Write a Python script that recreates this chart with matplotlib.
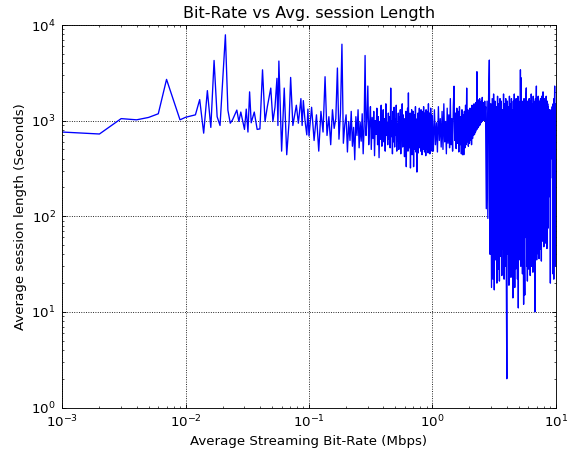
import numpy as np
import matplotlib
matplotlib.use("Agg")
import matplotlib.pyplot as plt

# low bit-rate part, read point by point
x_low = [0.001, 0.002, 0.003, 0.004, 0.005, 0.006, 0.007, 0.009, 0.010, 0.011,
         0.012, 0.013, 0.014, 0.015, 0.016, 0.017, 0.018, 0.019, 0.021, 0.022,
         0.023, 0.024, 0.026, 0.027, 0.028, 0.030, 0.031, 0.032, 0.033]
y_low = [760, 725, 1050, 1020, 1080, 1180, 2700, 1020, 1085, 1120,
         1150, 1660, 740, 2060, 850, 4260, 1100, 890, 7900, 1290,
         940, 1020, 1290, 980, 1230, 810, 1320, 760, 2000]

x_mid = [0.034, 0.036, 0.038, 0.040, 0.042, 0.044, 0.046, 0.049, 0.051, 0.053,
         0.055, 0.056, 0.057, 0.060, 0.063, 0.066, 0.069, 0.071, 0.074, 0.079,
         0.082, 0.086, 0.088, 0.090, 0.093, 0.096, 0.098]
y_mid = [950, 1230, 810, 820, 3400, 980, 1410, 2190, 980, 1380,
         2770, 890, 4200, 480, 2190, 440, 980, 2830, 890, 1450,
         940, 1700, 890, 1620, 980, 710, 1320]

# 0.1 .. 1 Mbps, bins of 5 kbps
y_sub1 = [690, 1380, 620, 1150, 480, 1250, 760, 2880, 700, 1100,
          560, 1300, 830, 1050, 3550, 640, 1200, 6300, 580, 900,
          1150, 470, 980, 620, 1250, 540, 850, 390, 1100, 700,
          1300, 520, 960, 610, 1180, 450, 880, 4800, 700, 1050,
          2300, 560, 920, 1400, 500, 1080, 650, 1250, 430, 1000,
          720, 1350, 560, 1100, 410, 980, 640, 1450, 540, 900,
          1300, 600, 1050, 480, 1500, 700, 950, 560, 1200, 640,
          1100, 520, 2190, 680, 1000, 450, 1250, 600, 1380, 530,
          1050, 700, 1450, 480, 920, 620, 1200, 500, 1100, 580,
          1300, 450, 980, 700, 1500, 530, 1150, 610, 880, 420,
          1050, 560, 1250, 330, 950, 640, 1350, 480, 1950, 600,
          1100, 520, 1200, 320, 900, 680, 1300, 440, 1050, 560,
          1250, 330, 980, 600, 1150, 500, 1400, 470, 900, 650,
          290, 1050, 560, 1200, 460, 1000, 620, 1350, 520, 880,
          1150, 480, 1300, 600, 950, 440, 1250, 570, 1080, 500,
          1400, 620, 900, 470, 1200, 560, 1050, 430, 1300, 600,
          980, 500, 1250, 640, 1100, 460, 1500, 590, 900, 520,
          1200, 450, 1050, 620, 1350, 500, 950, 560, 1150, 480]

# 1 .. 2.7 Mbps, bins of 20 kbps
y_1to3 = [1100, 480, 1300, 560, 950, 470, 1400, 620, 1050, 530,
          1250, 500, 1500, 600, 980, 450, 1350, 580, 1150, 520,
          1700, 560, 1050, 480, 1400, 2290, 620, 1200, 510, 1350,
          580, 1250, 470, 1400, 560, 1100, 450, 1300, 440, 1150,
          440, 1250, 520, 1450, 560, 2190, 600, 1300, 540, 1200,
          580, 1350, 620, 1250, 560, 1450, 650, 1300, 700, 1500,
          720, 1400, 760, 1550, 800, 3250, 820, 1450, 850, 1650,
          880, 1700, 900, 1500, 950, 1600, 980, 1750, 1000, 1550,
          1020, 1450, 1000, 1600, 1100]

# 2.7 .. 10 Mbps, bins of 40 kbps
y_high = [1400, 120, 1600, 95, 1800, 4300, 40, 1500, 18, 1700,
          22, 1900, 17, 1600, 35, 1400, 20, 1800, 28, 1500,
          21, 1700, 38, 1600, 24, 1300, 45, 1900, 22, 1500,
          30, 1700, 25, 2, 1600, 40, 1400, 19, 1800, 60,
          1500, 23, 1700, 33, 1300, 14, 1600, 50, 1900, 18,
          1400, 28, 1700, 40, 1500, 22, 1800, 11, 1600, 35,
          1500, 70, 3400, 30, 2800, 45, 1600, 25, 1400, 55,
          12, 1700, 40, 15, 1500, 60, 1800, 2200, 30, 1400,
          21, 1600, 45, 1500, 28, 1700, 80, 1300, 24, 1600,
          35, 1900, 30, 1500, 55, 1400, 26, 1800, 40, 1600,
          65, 1500, 30, 10, 1700, 45, 1400, 2300, 35, 1600,
          80, 1500, 50, 1800, 40, 1300, 36, 1600, 60, 1400,
          45, 1700, 90, 1500, 34, 1800, 70, 1300, 55, 1600,
          2000, 60, 1500, 48, 1700, 85, 1400, 52, 1600, 120,
          1500, 65, 1800, 90, 1300, 46, 1600, 140, 1500, 75,
          1400, 900, 1200, 300, 1100, 800, 1300, 160, 1000, 20,
          1200, 700, 1000, 1300, 400, 1100, 900, 1400, 250, 1000,
          25, 1500, 40, 1300, 22, 1700, 35, 1400, 2300, 30,
          1500, 40, 1200]

x_sub1 = 0.100 + 0.005 * np.arange(len(y_sub1))
x_1to3 = 1.00 + 0.02 * np.arange(len(y_1to3))
x_high = 2.70 + 0.04 * np.arange(len(y_high))

x_all = np.concatenate([x_low, x_mid, x_sub1, x_1to3, x_high])
y_all = np.concatenate([y_low, y_mid, y_sub1, y_1to3, y_high])

plt.rcParams['font.family'] = ['DejaVu Sans']
plt.rcParams['font.size'] = 12
plt.rcParams['xtick.direction'] = 'in'
plt.rcParams['ytick.direction'] = 'in'
plt.rcParams['xtick.top'] = True
plt.rcParams['ytick.right'] = True
plt.rcParams['xtick.major.size'] = 4
plt.rcParams['ytick.major.size'] = 4
plt.rcParams['xtick.minor.size'] = 2
plt.rcParams['ytick.minor.size'] = 2
plt.rcParams['xtick.major.pad'] = 6
plt.rcParams['ytick.major.pad'] = 6

fig = plt.figure(figsize=(577 / 80, 450 / 80), dpi=80)
ax = fig.add_axes([0.108, 0.0944, 0.855, 0.85])

ax.plot(x_all, y_all, color='#0000ff', lw=1.2)
ax.set_xscale('log')
ax.set_yscale('log')
ax.set_xlim(1e-3, 1e1)
ax.set_ylim(1e0, 1e4)
ax.grid(True, which='major', color='k', linestyle=':', linewidth=0.8)

ax.set_title("Bit-Rate vs Avg. session Length", fontsize=14.4)
ax.set_xlabel("Average Streaming Bit-Rate (Mbps)", fontsize=12)
ax.set_ylabel("Average session length (Seconds)", fontsize=12)

fig.savefig("out.png", dpi=80, facecolor='white')
